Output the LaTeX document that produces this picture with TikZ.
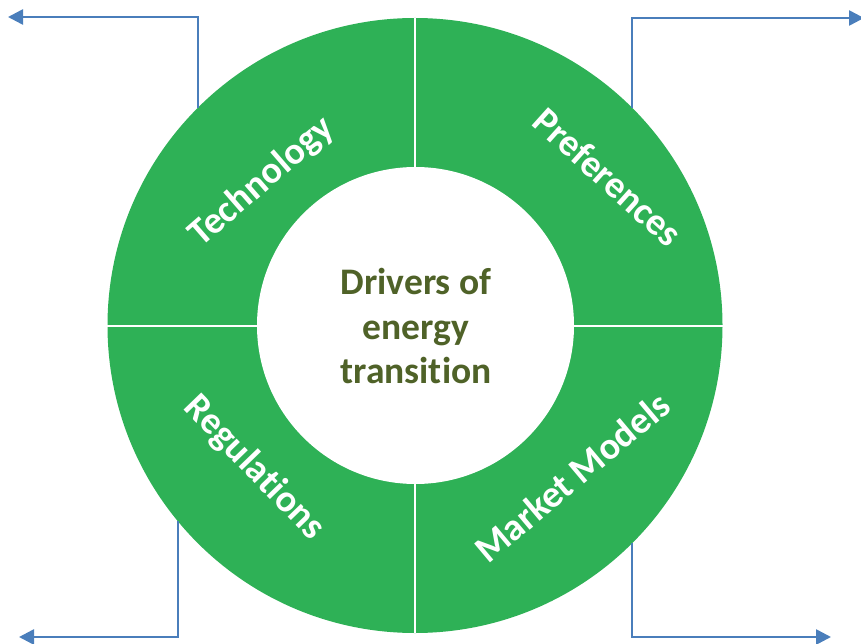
\documentclass[tikz,border=0pt]{standalone}
\usepackage{fontspec}
\setmainfont{Carlito}[Ligatures={NoCommon},RawFeature={-liga;-dlig}]
\usetikzlibrary{arrows.meta}
\definecolor{ringgreen}{RGB}{46,177,86}
\definecolor{olivetext}{RGB}{79,98,40}
\definecolor{linkblue}{RGB}{74,126,187}
\begin{document}
\begin{tikzpicture}[x=1pt,y=-1pt,
  seglabel/.style={text=white,font=\bfseries\fontsize{38}{44}\selectfont,inner sep=0pt},
  link/.style={draw=linkblue,line width=2.6pt,-{Triangle[length=15pt,width=15pt]}},
  sepline/.style={draw=white,line width=2pt}]
\useasboundingbox (0,0) rectangle (861,644);
\node[circle,fill=ringgreen,draw=none,minimum size=615pt,inner sep=0pt] (ring) at (415,325.5) {};
\draw[sepline] (ring.north) -- (ring.south);
\draw[sepline] (ring.west) -- (ring.east);
\node[circle,fill=white,draw=none,minimum size=317pt,inner sep=0pt] (hub) at (415.5,325.5) {};
\node[text=olivetext,font=\bfseries\fontsize{37.5}{44.5}\selectfont,align=center,inner sep=0pt] (title) at (416,326) {Drivers of\\energy\\transition};
\node[seglabel,rotate=41] (tech) at (262,182) {Technology};
\node[seglabel,rotate=-42] (pref) at (608,177) {Preferences};
\node[seglabel,rotate=-46] (regu) at (254,468) {Regulations};
\node[seglabel,rotate=40] (mark) at (572,477) {Market Models};
\coordinate (tl0) at (198,107.6);
\coordinate (tl1) at (198,17);
\coordinate (tl2) at (8,17);
\coordinate (tr0) at (632,107.6);
\coordinate (tr1) at (632,18);
\coordinate (tr2) at (864,18);
\coordinate (bl0) at (178,520.8);
\coordinate (bl1) at (178,637);
\coordinate (bl2) at (19,637);
\coordinate (br0) at (632,543.4);
\coordinate (br1) at (632,637);
\coordinate (br2) at (831,637);
\draw[link] (tl0) -- (tl1) -- (tl2);
\draw[link] (tr0) -- (tr1) -- (tr2);
\draw[link] (bl0) -- (bl1) -- (bl2);
\draw[link] (br0) -- (br1) -- (br2);
\end{tikzpicture}
\end{document}
